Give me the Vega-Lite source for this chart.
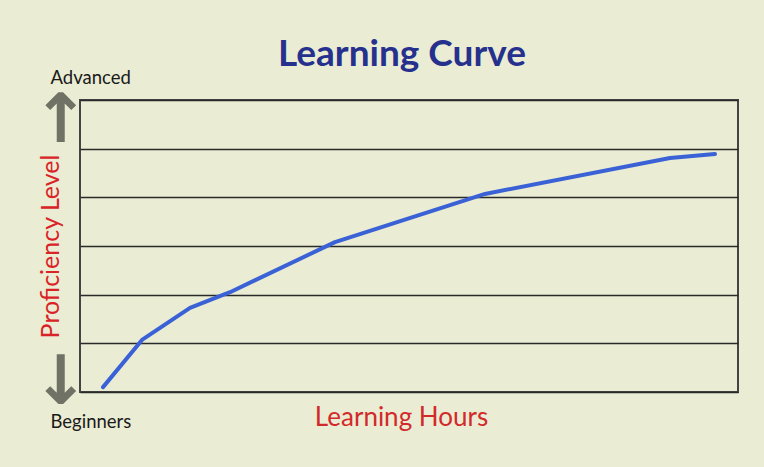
{
  "$schema": "https://vega.github.io/schema/vega-lite/v6.json",
  "width": 658,
  "height": 292,
  "autosize": {"type": "none"},
  "padding": {"left": 80, "top": 100, "right": 26, "bottom": 75},
  "background": "#eaecd4",
  "title": {
    "text": "Learning Curve",
    "font": "Lato",
    "fontSize": 37,
    "fontWeight": "bold",
    "color": "#26318e",
    "anchor": "middle",
    "dx": -7,
    "offset": -6
  },
  "data": {
    "values": [
      {"hours": 3.5, "level": 0.1},
      {"hours": 9.42, "level": 1.07},
      {"hours": 16.72, "level": 1.73},
      {"hours": 22.8, "level": 2.05},
      {"hours": 38.75, "level": 3.08},
      {"hours": 61.55, "level": 4.07},
      {"hours": 89.67, "level": 4.81},
      {"hours": 96.5, "level": 4.89}
    ]
  },
  "mark": {"type": "line", "color": "#3a62d6", "strokeWidth": 4, "strokeCap": "round", "strokeJoin": "round"},
  "encoding": {
    "x": {
      "field": "hours",
      "type": "quantitative",
      "scale": {"domain": [0, 100], "nice": false, "zero": false},
      "axis": {
        "title": "Learning Hours",
        "titleFont": "Lato",
        "titleFontSize": 26,
        "titleFontWeight": "normal",
        "titleColor": "#d22a2a",
        "titlePadding": 12,
        "titleX": 321,
        "labels": false,
        "ticks": false,
        "domain": false,
        "grid": false
      }
    },
    "y": {
      "field": "level",
      "type": "quantitative",
      "scale": {"domain": [0, 6], "nice": false, "zero": false},
      "axis": {
        "title": "Proficiency Level",
        "titleFont": "Lato",
        "titleFontSize": 25,
        "titleFontWeight": "normal",
        "titleColor": "#d92326",
        "titlePadding": -32,
        "values": [0, 0.17, 1, 2, 3, 4, 5, 5.55, 6],
        "labelExpr": "datum.value == 6 ? 'Advanced' : datum.value == 0 ? 'Beginners' : datum.value == 0.17 ? '↓' : datum.value == 5.55 ? '↑' : ''",
        "labelAlign": {"condition": {"test": "datum.value == 0.17 || datum.value == 5.55", "value": "center"}, "value": "left"},
        "labelPadding": {"condition": {"test": "datum.value == 0.17 || datum.value == 5.55", "value": 20}, "value": 30},
        "labelOverlap": false,
        "labelFlush": false,
        "labelBound": false,
        "labelFont": {"condition": {"test": "datum.value == 0.17 || datum.value == 5.55", "value": "DejaVu Sans"}, "value": "Lato"},
        "labelFontSize": {"condition": {"test": "datum.value == 0.17 || datum.value == 5.55", "value": 68}, "value": 18.5},
        "labelFontWeight": {"condition": {"test": "datum.value == 0.17 || datum.value == 5.55", "value": "bold"}, "value": "normal"},
        "labelColor": {"condition": {"test": "datum.value == 0.17 || datum.value == 5.55", "value": "#6f7264"}, "value": "#1a1a1a"},
        "labelOffset": {"condition": [{"test": "datum.value == 6", "value": -23}, {"test": "datum.value == 0", "value": 29}], "value": 0},
        "ticks": false,
        "tickSize": 0,
        "domain": false,
        "grid": true,
        "gridColor": "#2a2a2a",
        "gridWidth": 1.5,
        "gridOpacity": {"condition": {"test": "datum.value == 0.17 || datum.value == 5.55", "value": 0}, "value": 1}
      }
    }
  },
  "config": {
    "view": {"stroke": "#444444", "strokeWidth": 2}
  }
}
